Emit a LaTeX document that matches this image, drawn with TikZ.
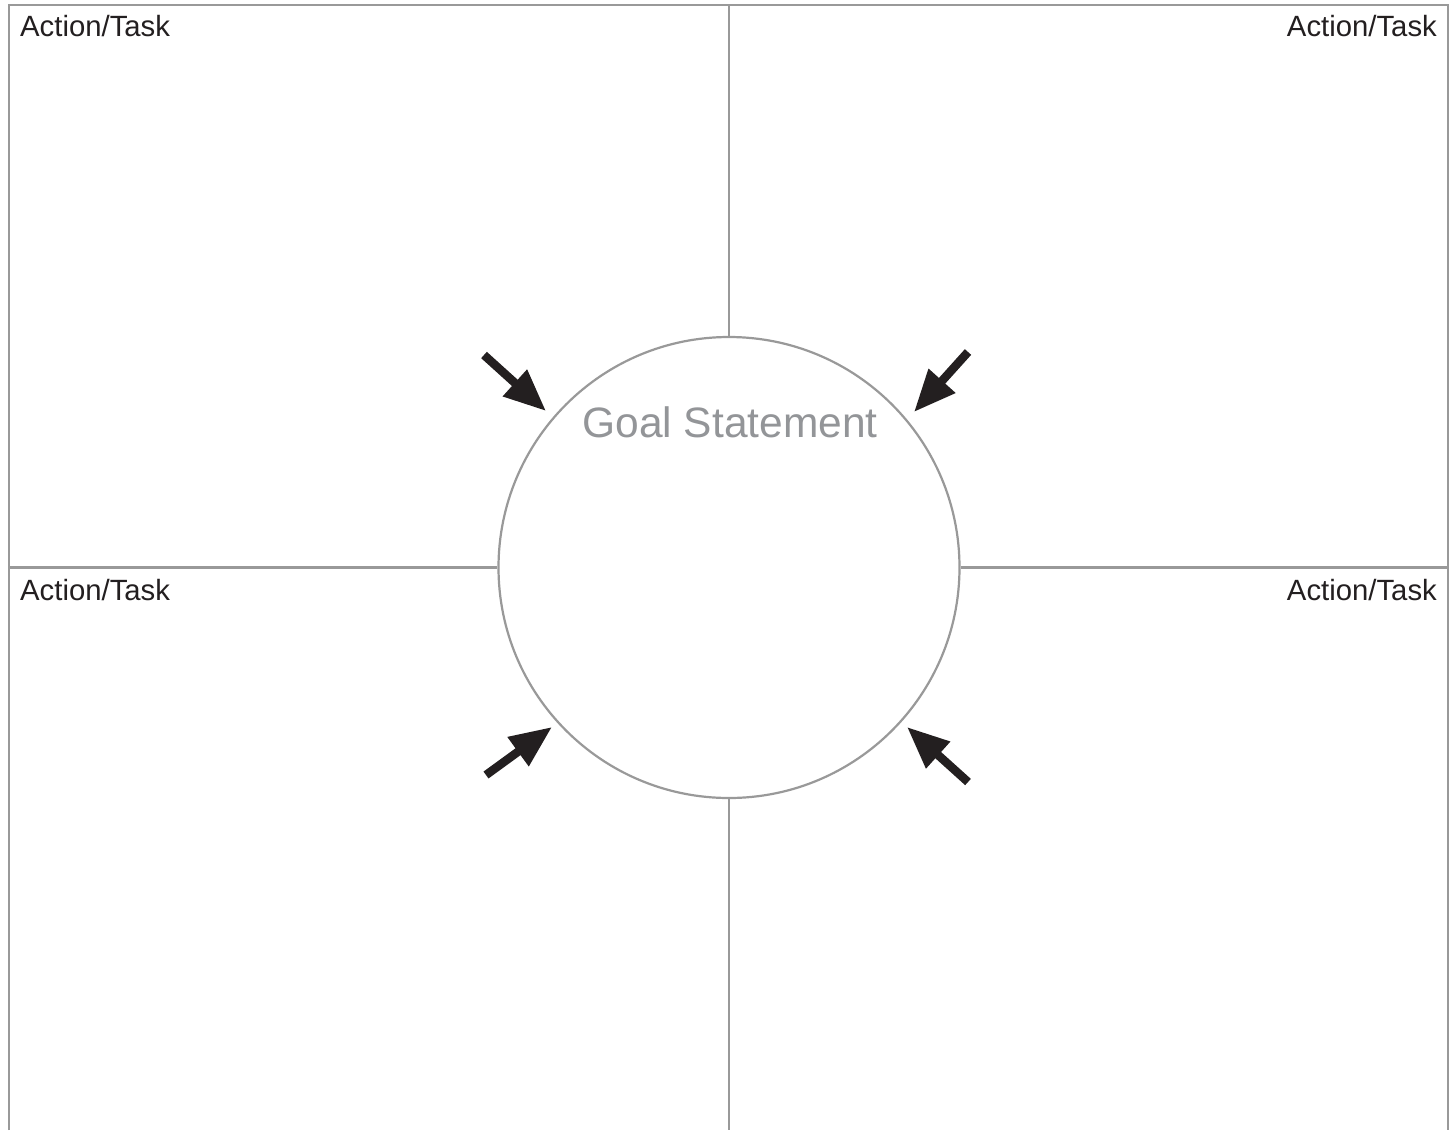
\documentclass[tikz,border=0pt]{standalone}
\usepackage{fontspec}
\setmainfont{Liberation Sans}
\usetikzlibrary{arrows.meta}
\definecolor{linegray}{HTML}{999999}
\definecolor{textdark}{HTML}{231F20}
\definecolor{goalgray}{HTML}{939598}
\begin{document}
\begin{tikzpicture}[x=1pt,y=-1pt,
  frameline/.style={draw=linegray,line width=2.2pt},
  actlabel/.style={font=\fontsize{29.3}{31}\selectfont,text=textdark,inner sep=0pt},
  bigarrow/.style={draw=textdark,fill=textdark,line width=8.5pt,-{Triangle[length=42pt,width=34pt]}}]
\useasboundingbox (0,0) rectangle (1450,1130);
\fill[white] (0,0) rectangle (1450,1130);
% frame (open at bottom)
\draw[frameline] (9,1130) -- (9,5) -- (1448,5) -- (1448,1130);
\node[circle,draw=linegray,line width=2.2pt,minimum size=461pt,inner sep=0pt] (goal) at (729,567.5) {};
\draw[frameline] (729,5) -- (goal.north);
\draw[frameline] (goal.south) -- (729,1130);
\draw[frameline] (9,567.5) -- (goal.west);
\draw[frameline] (goal.east) -- (1448,567.5);
\node[font=\fontsize{42.5}{44}\selectfont,text=goalgray,inner sep=0pt] (gs) at (730,422) {Goal Statement};
\node[actlabel,anchor=base west] (tl) at (20,36) {Action/Task};
\node[actlabel,anchor=base east] (tr) at (1437,36) {Action/Task};
\node[actlabel,anchor=base west] (bl) at (20,600) {Action/Task};
\node[actlabel,anchor=base east] (br) at (1437,600) {Action/Task};
% arrows
\coordinate (a1s) at (484,355); \coordinate (a1e) at (546,411);
\coordinate (a2s) at (968,352); \coordinate (a2e) at (914,412);
\coordinate (a3s) at (486,775); \coordinate (a3e) at (552,727);
\coordinate (a4s) at (968,782); \coordinate (a4e) at (907,727);
\draw[bigarrow] (a1s) -- (a1e);
\draw[bigarrow] (a2s) -- (a2e);
\draw[bigarrow] (a3s) -- (a3e);
\draw[bigarrow] (a4s) -- (a4e);
\end{tikzpicture}
\end{document}
